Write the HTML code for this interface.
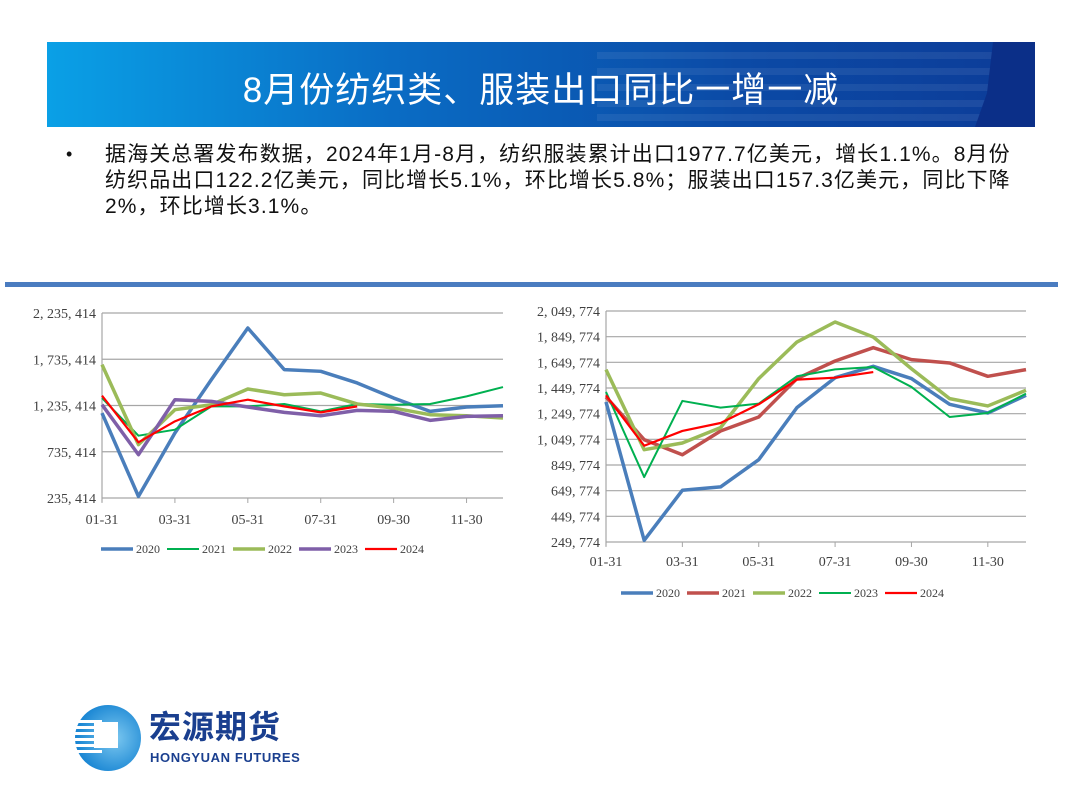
<!DOCTYPE html>
<html><head><meta charset="utf-8">
<style>
body{margin:0;width:1080px;height:810px;background:#fff;position:relative;overflow:hidden;font-family:"Liberation Sans","Noto Sans CJK SC",sans-serif}
#banner{position:absolute;left:47px;top:42px;width:988px;height:85px;background:linear-gradient(90deg,#0aa0e6 0%,#0a6cc4 35%,#0b4aa6 70%,#0c3c98 100%);overflow:hidden}
#banner .stripe{position:absolute;left:550px;right:0;height:7px;background:rgba(255,255,255,0.07)}
#banner .cap{position:absolute;right:0;top:0;width:60px;height:85px;background:#0b2f88;clip-path:polygon(30% 0,100% 0,100% 100%,0 100%,20% 60%)}
#title{position:absolute;left:0;right:0;top:20px;text-align:center;color:#fff;font-size:35px;letter-spacing:1px}
#bullet{position:absolute;left:66px;top:144px;font-size:18px;color:#111}
#text{position:absolute;left:105px;top:142px;font-size:21px;line-height:26px;color:#111;white-space:nowrap;letter-spacing:1.1px}
#sep{position:absolute;left:5px;top:282px;width:1053px;height:5px;background:#4a7cc0}
svg text{font-family:"Liberation Serif","Noto Serif CJK SC",serif}
</style></head><body>
<div id="banner">
<div class="stripe" style="top:10px"></div><div class="stripe" style="top:26px"></div><div class="stripe" style="top:42px"></div><div class="stripe" style="top:58px"></div><div class="stripe" style="top:72px"></div>
<div class="cap"></div>
<div id="title">8月份纺织类、服装出口同比一增一减</div>
</div>
<div id="bullet">•</div>
<div id="text">据海关总署发布数据，2024年1月-8月，纺织服装累计出口1977.7亿美元，增长1.1%。8月份<br>纺织品出口122.2亿美元，同比增长5.1%，环比增长5.8%；服装出口157.3亿美元，同比下降<br>2%，环比增长3.1%。</div>
<div id="sep"></div>
<svg id="chart" width="1080" height="810" style="position:absolute;left:0;top:0"></svg>
<div style="position:absolute;left:74px;top:704px;width:240px;height:70px">
<svg width="68" height="68" viewBox="0 0 68 68" style="position:absolute;left:0;top:0">
<defs><radialGradient id="lg" cx="0.6" cy="0.5" r="0.6"><stop offset="0" stop-color="#7cc8f0"/><stop offset="1" stop-color="#1583d2"/></radialGradient></defs>
<circle cx="34" cy="34" r="33" fill="url(#lg)"/>
<rect x="2" y="16" width="26" height="3" fill="#fff"/><rect x="1" y="22" width="26" height="3" fill="#fff"/><rect x="1" y="28" width="26" height="3" fill="#fff"/><rect x="1" y="34" width="26" height="3" fill="#fff"/><rect x="1" y="40" width="26" height="3" fill="#fff"/><rect x="2" y="46" width="26" height="3" fill="#fff"/>
<rect x="20" y="18" width="24" height="26" fill="#fff"/>
</svg>
<div style="position:absolute;left:75px;top:4px;font-size:32px;line-height:38px;font-weight:bold;color:#1a3f8f;letter-spacing:1px">宏源期货</div>
<div style="position:absolute;left:76px;top:46px;font-size:13px;font-weight:bold;color:#1a3f8f;letter-spacing:0.6px">HONGYUAN FUTURES</div>
</div>
<script>
const months=['01-31','02-29','03-31','04-30','05-31','06-30','07-31','08-31','09-30','10-31','11-30','12-31'];
const xTickLabels=['01-31','03-31','05-31','07-31','09-30','11-30'];
const years=['2020','2021','2022','2023','2024'];
const leftTicks=[235414,735414,1235414,1735414,2235414];
const left2020=[1154000,253000,938000,1515000,2073000,1623000,1605000,1479000,1316000,1172000,1219000,1233000];
const left2021=[1316000,909000,974000,1226000,1226000,1252000,1172000,1252000,1244000,1252000,1334000,1435000];
const left2022=[1677000,812000,1190000,1244000,1414000,1352000,1370000,1252000,1208000,1136000,1125000,1100000];
const left2023=[1244000,704000,1298000,1280000,1219000,1161000,1125000,1183000,1172000,1075000,1118000,1125000];
const left2024=[1342000,837000,1064000,1226000,1298000,1226000,1161000,1226000];
const rightTicks=[249774,449774,649774,849774,1049774,1249774,1449774,1649774,1849774,2049774];
const right2020=[1341000,263000,653000,679000,891000,1297000,1530000,1619000,1523000,1323000,1255000,1393000];
const right2021=[1380000,1047000,930000,1115000,1224000,1523000,1660000,1764000,1671000,1645000,1541000,1593000];
const right2022=[1593000,969000,1021000,1141000,1523000,1808000,1964000,1847000,1600000,1367000,1310000,1432000];
const right2023=[1419000,756000,1349000,1297000,1328000,1541000,1595000,1613000,1458000,1224000,1255000,1406000];
const right2024=[1393000,1000000,1115000,1177000,1323000,1515000,1530000,1574000];

const svg=document.getElementById('chart');
const NS='http://www.w3.org/2000/svg';
function mk(tag,attrs){const e=document.createElementNS(NS,tag);for(const k in attrs)e.setAttribute(k,attrs[k]);svg.appendChild(e);return e;}
function fmt(v){return v.toLocaleString('en-US').replace(/,/g,', ');}

function drawChart(cfg){
  const {L,R,T,B,ticks,series,colors,widths,legendY,legendX,prefix,labelY}=cfg;
  const min=ticks[0],max=ticks[ticks.length-1];
  const xs=i=>L+(R-L)*i/(months.length-1);
  const ys=v=>B-(v-min)/(max-min)*(B-T);
  ticks.forEach((t,i)=>{
    const g=mk('line',{x1:L,x2:R,y1:ys(t),y2:ys(t),stroke:'#a6a6a6','stroke-width':1.2});
    
    
    const tx=mk('text',{x:L-6,y:ys(t)+5,'text-anchor':'end','font-size':14,fill:'#404040'});
    tx.textContent=fmt(t);
    
    
  });
  const ax=mk('line',{x1:L,x2:L,y1:T,y2:B+4,stroke:'#a6a6a6','stroke-width':1.2});
  
  
  xTickLabels.forEach(lab=>{
    const i=months.indexOf(lab);
    const tk=mk('line',{x1:xs(i),x2:xs(i),y1:B,y2:B+5,stroke:'#a6a6a6'});
    
    
    const tx=mk('text',{x:xs(i),y:labelY,'text-anchor':'middle','font-size':14,fill:'#404040'});
    tx.textContent=lab;
    
    
  });
  series.forEach((s,k)=>{
    const p=mk('polyline',{points:s.map((v,i)=>xs(i)+','+ys(v)).join(' '),fill:'none',stroke:colors[k],'stroke-width':widths[k],'stroke-linejoin':'round'});
    
    
    const lx=legendX+k*66;
    const ll=mk('line',{x1:lx,x2:lx+32,y1:legendY,y2:legendY,stroke:colors[k],'stroke-width':widths[k]});
    
    
    const lt=mk('text',{x:lx+35,y:legendY+4,'font-size':12,fill:'#404040'});
    lt.textContent=years[k];
    
    
  });
}
drawChart({L:102,R:503,T:313,B:498,ticks:leftTicks,series:[left2020,left2021,left2022,left2023,left2024],
  colors:['#4a7ebb','#00b050','#9bbb59','#7f5fa8','#ff0000'],widths:[3.5,2,3.5,3.5,2.2],legendY:549,legendX:101,prefix:'left-chart',labelY:524});
drawChart({L:606,R:1026,T:311,B:542,ticks:rightTicks,series:[right2020,right2021,right2022,right2023,right2024],
  colors:['#4a7ebb','#c0504d','#9bbb59','#00b050','#ff0000'],widths:[3.5,3.5,3.5,2,2.2],legendY:593,legendX:621,prefix:'right-chart',labelY:566});
</script>
</body></html>
